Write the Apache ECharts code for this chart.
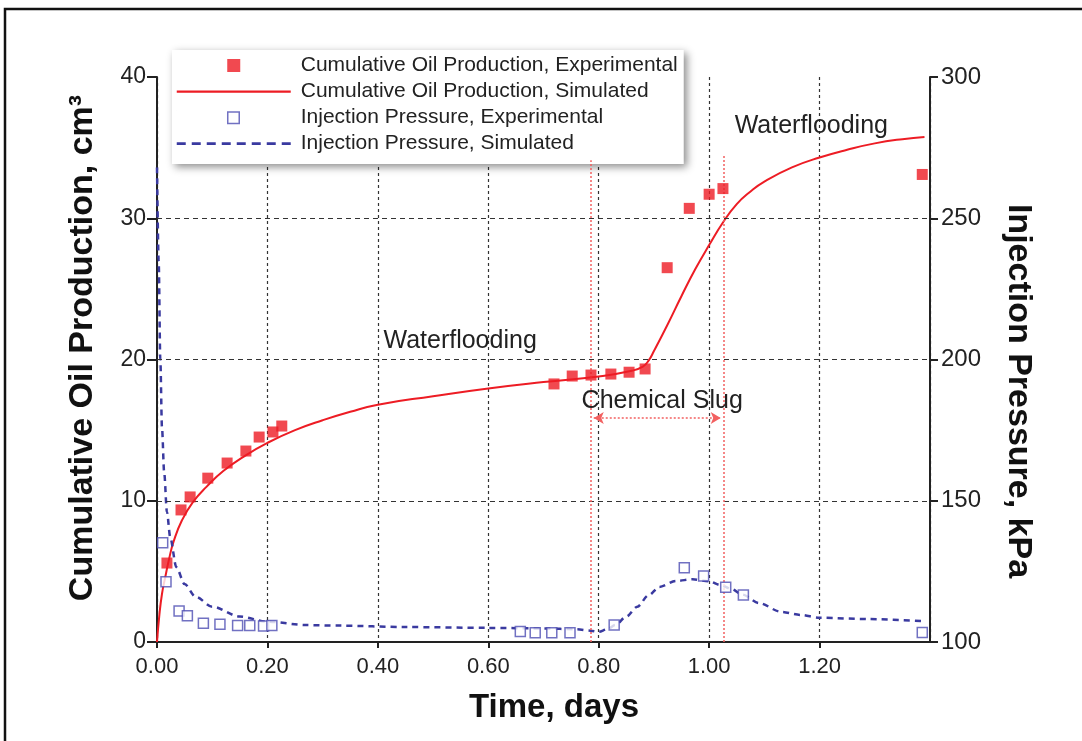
<!DOCTYPE html>
<html>
<head>
<meta charset="utf-8">
<script src="https://cdn.jsdelivr.net/npm/echarts@6/dist/echarts.min.js"></script>
<style>html,body{margin:0;padding:0;background:#fff;}#c{width:1082px;height:741px;}</style>
</head>
<body>
<div id="c"></div>
<script>
// ---- data ----
const oilExpT = [0.018, 0.0435, 0.060, 0.092, 0.127, 0.161, 0.185, 0.210, 0.226, 0.719, 0.752, 0.786, 0.822, 0.855, 0.884, 0.924, 0.964, 1.0, 1.025, 1.386];
const oilExpV = [5.59, 9.35, 10.27, 11.6, 12.67, 13.52, 14.51, 14.87, 15.29, 18.27, 18.83, 18.9, 18.97, 19.1, 19.33, 26.5, 30.7, 31.7, 32.1, 33.1];

const oilSimT = [0, 0.004, 0.009, 0.015, 0.022, 0.03, 0.045, 0.065, 0.09, 0.12, 0.16, 0.2, 0.25, 0.3, 0.35, 0.4, 0.5, 0.6, 0.7, 0.8, 0.86, 0.88, 0.89, 0.9, 0.925, 0.95, 0.975, 1.0, 1.025, 1.05, 1.075, 1.1, 1.15, 1.2, 1.25, 1.3, 1.35, 1.39];
const oilSimV = [0, 1.8, 3.4, 4.6, 5.9, 7.1, 8.6, 9.9, 11.0, 12.1, 13.2, 14.1, 15.0, 15.7, 16.3, 16.8, 17.4, 17.95, 18.4, 18.8, 19.2, 19.5, 19.9, 20.6, 22.5, 24.5, 26.4, 28.1, 29.7, 31.0, 31.9, 32.6, 33.6, 34.3, 34.85, 35.3, 35.6, 35.75];

const presExpT = [0.0103, 0.0163, 0.040, 0.055, 0.084, 0.114, 0.146, 0.168, 0.193, 0.208, 0.658, 0.685, 0.715, 0.748, 0.828, 0.955, 0.990, 1.030, 1.062, 1.386];
const presExpV = [135.1, 121.3, 111, 109.3, 106.6, 106.3, 105.8, 105.8, 105.7, 105.8, 103.7, 103.3, 103.3, 103.3, 106.0, 126.3, 123.4, 119.4, 116.6, 103.4];

const presSimT = [0, 0.003, 0.006, 0.009, 0.013, 0.018, 0.024, 0.035, 0.05, 0.07, 0.1, 0.15, 0.2, 0.27, 0.33, 0.45, 0.6, 0.7, 0.76, 0.785, 0.80, 0.815, 0.83, 0.85, 0.87, 0.89, 0.91, 0.94, 0.97, 1.0, 1.02, 1.04, 1.06, 1.09, 1.13, 1.165, 1.2, 1.29, 1.39];
const presSimV = [268, 235, 200, 176, 160, 146, 137, 126.5, 120.5, 116, 112.5, 109, 107.2, 106, 105.8, 105.3, 105.0, 104.8, 104.5, 104.0, 103.6, 104.5, 106, 109, 112.5, 116.5, 119.5, 121.6, 122.2, 121.5, 120.2, 118.8, 116.8, 113.8, 110.7, 109.6, 108.6, 108.1, 107.4];

const seriesNames = ['Cumulative Oil Production, Experimental', 'Cumulative Oil Production, Simulated', 'Injection Pressure, Experimental', 'Injection Pressure, Simulated'];
const oilGrid = [10, 20, 30];
const slugStart = 0.786, slugEnd = 1.026;
const notes = [
  { text: 'Waterflooding', x: 0.549, y: 21.3 },
  { text: 'Waterflooding', x: 1.185, y: 36.5 },
  { text: 'Chemical Slug', x: 0.915, y: 17.06 }
];
const titles = { x: 'Time, days', yLeft: 'Cumulative Oil Production, cm³', yRight: 'Injection Pressure, kPa' };

const zip = (a, b) => a.map((v, i) => [v, b[i]]);
const FONT = 'Liberation Sans, Arial, Helvetica, sans-serif';
const RED = '#ed1c24';
const BLUE = '#3a3aa0';

// legend icon shapes (119 x 14 box; tiny corner segments fix the bounding box)
const BOX = 'M0,0h0.01 M119,14h0.01 ';
const iconFilledSq = 'path://' + BOX + 'M50.5,0.5h13v13h-13z';
const iconOpenSq = 'path://' + BOX + 'M51,1.5h11.5v11.5h-11.5z';
const iconLine = 'path://' + BOX + 'M0,6h114v2.2h-114z';
let dashes = '';
for (let x = 0; x < 114; x += 15) dashes += 'M' + x + ',5.8h' + Math.min(9, 114 - x) + 'v2.6h-' + Math.min(9, 114 - x) + 'z ';
const iconDash = 'path://' + BOX + dashes;

const chart = echarts.init(document.getElementById('c'), null, { renderer: 'canvas' });
const option = {
  animation: false,
  backgroundColor: '#fff',
  textStyle: { fontFamily: FONT },
  grid: { left: 157, right: 152, top: 77, bottom: 99, containLabel: false },
  legend: {
    orient: 'vertical',
    left: 172, top: 50,
    padding: [5, 6, 10, 4],
    itemWidth: 119, itemHeight: 14, itemGap: 5,
    backgroundColor: '#fff',
    shadowBlur: 8, shadowColor: 'rgba(0,0,0,0.45)', shadowOffsetX: 3, shadowOffsetY: 3,
    textStyle: { fontSize: 21, color: '#222', fontFamily: FONT, lineHeight: 20 },
    data: [
      { name: seriesNames[0], icon: iconFilledSq, itemStyle: { color: RED, borderWidth: 0 } },
      { name: seriesNames[1], icon: iconLine, itemStyle: { color: RED, borderWidth: 0 } },
      { name: seriesNames[2], icon: iconOpenSq, itemStyle: { color: '#fff', borderColor: '#4d4db3', borderWidth: 1.5 } },
      { name: seriesNames[3], icon: iconDash, itemStyle: { color: BLUE, borderWidth: 0 } }
    ]
  },
  xAxis: {
    type: 'value', min: 0, max: 1.4, interval: 0.2,
    axisLine: { lineStyle: { color: '#222', width: 2 } },
    axisTick: { length: 6, lineStyle: { color: '#222', width: 2 } },
    axisLabel: { fontSize: 22, color: '#222', margin: 14, showMaxLabel: false,
      formatter: v => v >= 1.39 ? '' : v.toFixed(2) },
    splitLine: { show: true, lineStyle: { color: '#333', width: 1.2, type: [3, 3] } }
  },
  yAxis: [{
    type: 'value', min: 0, max: 40, interval: 10,
    axisLine: { show: true, lineStyle: { color: '#222', width: 2 } },
    axisTick: { show: true, length: 10, lineStyle: { color: '#222', width: 2 } },
    axisLabel: { fontSize: 23, color: '#222', margin: 11 },
    splitLine: { show: false }
  }, {
    type: 'value', min: 100, max: 300, interval: 50, position: 'right',
    axisLine: { show: true, lineStyle: { color: '#222', width: 2 } },
    axisTick: { show: true, length: 8, lineStyle: { color: '#222', width: 2 } },
    axisLabel: { fontSize: 24, color: '#222', margin: 11 },
    splitLine: { show: false }
  }],
  series: [
    {
      name: seriesNames[0], type: 'scatter', yAxisIndex: 0,
      symbol: 'rect', symbolSize: 11,
      itemStyle: { color: RED },
      data: zip(oilExpT, oilExpV), z: 5
    },
    {
      name: seriesNames[1], type: 'line', yAxisIndex: 0,
      symbol: 'none', smooth: 0.5,
      lineStyle: { color: RED, width: 2 }, itemStyle: { color: RED },
      data: zip(oilSimT, oilSimV), z: 4,
      markLine: {
        silent: true, symbol: ['none', 'none'], animation: false,
        label: { show: false },
        data: [
          ...oilGrid.map(v => ({ yAxis: v, lineStyle: { color: '#333', width: 1.2, type: [5, 4] } })),
          [{ coord: [slugStart, 0], lineStyle: { color: '#f26060', width: 1.5, type: [2, 2] } }, { coord: [slugStart, 34.1] }],
          [{ coord: [slugEnd, 0], lineStyle: { color: '#f26060', width: 1.5, type: [2, 2] } }, { coord: [slugEnd, 34.5] }],
          [{ coord: [slugStart + 0.005, 15.86], symbol: 'arrow', symbolSize: [9, 10], lineStyle: { color: '#f26060', width: 1.5, type: [2, 2] } },
           { coord: [slugEnd - 0.005, 15.86], symbol: 'arrow', symbolSize: [9, 10] }]
        ]
      }
    },
    {
      name: seriesNames[2], type: 'scatter', yAxisIndex: 1,
      symbol: 'rect', symbolSize: 10,
      itemStyle: { color: '#fff', borderColor: '#4d4db3', borderWidth: 1.5 },
      data: zip(presExpT, presExpV), z: 5
    },
    {
      name: seriesNames[3], type: 'line', yAxisIndex: 1,
      symbol: 'none', smooth: 0.3, smoothMonotone: 'x',
      lineStyle: { color: BLUE, width: 2.5, type: [6, 5] }, itemStyle: { color: BLUE },
      data: zip(presSimT, presSimV), z: 4
    }
  ]
};
chart.setOption(option);

const graphics = [{
  type: 'rect', silent: true,
  shape: { x: 5, y: 9, width: 1200, height: 900 },
  style: { fill: 'none', stroke: '#111', lineWidth: 2.5 }, z: 100
}];
notes.forEach(n => {
  const p = chart.convertToPixel({ xAxisIndex: 0, yAxisIndex: 0 }, [n.x, n.y]);
  graphics.push({
    type: 'text', silent: true, x: p[0], y: p[1], z: 50,
    style: { text: n.text, fontSize: 25, fill: '#222', fontFamily: FONT, align: 'center', verticalAlign: 'middle' }
  });
});
const titleStyle = (t, size) => ({ text: t, fontSize: size, fontWeight: 'bold', fill: '#111', fontFamily: FONT, align: 'center', verticalAlign: 'middle' });
graphics.push({ type: 'text', silent: true, x: 554, y: 708, style: titleStyle(titles.x, 33) });
graphics.push({ type: 'text', silent: true, x: 83, y: 348, rotation: Math.PI / 2, style: titleStyle(titles.yLeft, 34) });
graphics.push({ type: 'text', silent: true, x: 1018, y: 391, rotation: -Math.PI / 2, style: titleStyle(titles.yRight, 34) });
chart.setOption({ graphic: graphics });
</script>
</body>
</html>
